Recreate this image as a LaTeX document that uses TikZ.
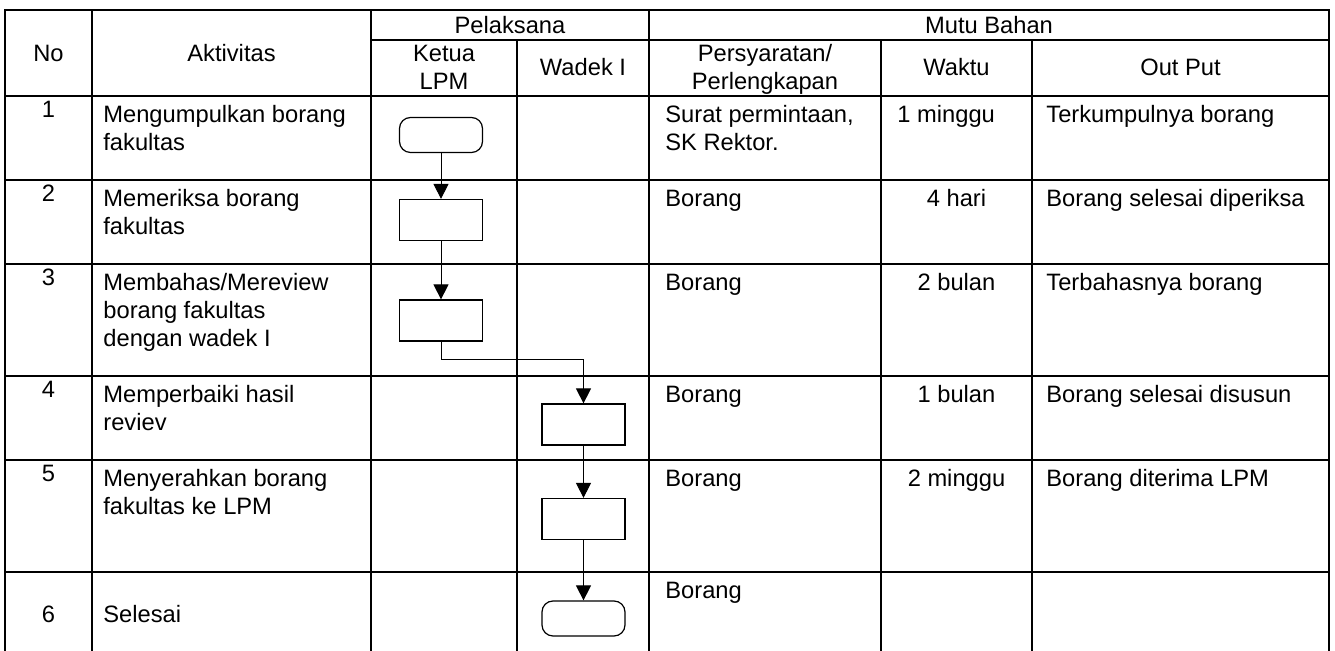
\documentclass[tikz,border=0pt]{standalone}
\usepackage{fontspec}
\setmainfont{Liberation Sans}
\usetikzlibrary{arrows.meta,positioning}

\begin{document}
\begin{tikzpicture}[x=0.5pt,y=-0.5pt,font=\fontsize{11.85}{14}\selectfont,
grid/.style={line width=0.75pt},
proc/.style={draw,line width=0.6pt,minimum width=41.5pt,minimum height=20.5pt,inner sep=0pt},
term/.style={proc,rounded corners=5.5pt,minimum height=17.5pt},
lt/.style={anchor=base west,align=left,inner sep=0pt},
ct/.style={anchor=base,align=center,inner sep=0pt},
flow/.style={-{Triangle[width=7.5pt,length=7.5pt]},line width=0.5pt}]
\useasboundingbox (0,0) rectangle (1335,651);
% table lines
\draw[grid] (5,651) -- (5,10) -- (1329,10) -- (1329,651);
\draw[grid] (371,40) -- (1329,40);
\foreach \y in {96,180,264,376,460,572} \draw[grid] (5,\y) -- (1329,\y);
\foreach \x in {92,371,649} \draw[grid] (\x,10) -- (\x,651);
\foreach \x in {517,881,1032} \draw[grid] (\x,40) -- (\x,651);
% header (base = last line)
\node[ct] (hno) at (48.5,62) {No};
\node[ct] (hakt) at (231.5,62) {Aktivitas};
\node[ct] (hpel) at (510,33.5) {Pelaksana};
\node[ct] (hmutu) at (989,33.5) {Mutu Bahan};
\node[ct] (hketua) at (444,90) {Ketua\\LPM};
\node[ct] (hwadek) at (583,76) {Wadek I};
\node[ct] (hsyarat) at (765,90) {Persyaratan/\\Perlengkapan};
\node[ct] (hwaktu) at (956.5,76) {Waktu};
\node[ct] (hout) at (1180.5,76) {Out Put};
% rows
\foreach \n/\y in {1/118,2/202,3/286,4/398,5/482}
  \node[ct] (no\n) at (48.5,\y) {\n};
\node[lt] (akt1) at (103,151) {Mengumpulkan borang\\fakultas};
\node[lt] (akt2) at (103,235) {Memeriksa borang\\fakultas};
\node[lt] (akt3) at (103,347) {Membahas/Mereview\\borang fakultas\\dengan wadek I};
\node[lt] (akt4) at (103,431) {Memperbaiki hasil\\reviev};
\node[lt] (akt5) at (103,515) {Menyerahkan borang\\fakultas ke LPM};
\node[ct] (no6) at (48.5,623) {6};
\node[lt] (akt6) at (103,623) {Selesai};
\node[lt] (syr1) at (665,151) {Surat permintaan,\\SK Rektor.};
\foreach \n/\y in {2/207,3/291,4/403,5/487,6/599}
  \node[lt] (syr\n) at (665,\y) {Borang};
\node[lt] (wkt1) at (897,123) {1 minggu};
\node[ct] (wkt2) at (956.5,207) {4 hari};
\node[ct] (wkt3) at (956.5,291) {2 bulan};
\node[ct] (wkt4) at (956.5,403) {1 bulan};
\node[ct] (wkt5) at (956.5,487) {2 minggu};
\node[lt] (out1) at (1046,123) {Terkumpulnya borang};
\node[lt] (out2) at (1046,207) {Borang selesai diperiksa};
\node[lt] (out3) at (1046,291) {Terbahasnya borang};
\node[lt] (out4) at (1046,403) {Borang selesai disusun};
\node[lt] (out5) at (1046,487) {Borang diterima LPM};
% flow
\node[term] (S) at (441,135) {};
\node[proc] (P1) at (441,220) {};
\node[proc] (P2) at (441,320.5) {};
\node[proc] (P3) at (583.5,424.5) {};
\node[proc] (P4) at (583.5,519) {};
\node[term] (E) at (583.5,618.5) {};
\path[flow]
(S) edge (P1)
(P1) edge (P2)
(P3) edge (P4)
(P4) edge (E);
\draw[flow] (P2.south) -- ++(0,17.5) -| (P3);
\end{tikzpicture}
\end{document}
